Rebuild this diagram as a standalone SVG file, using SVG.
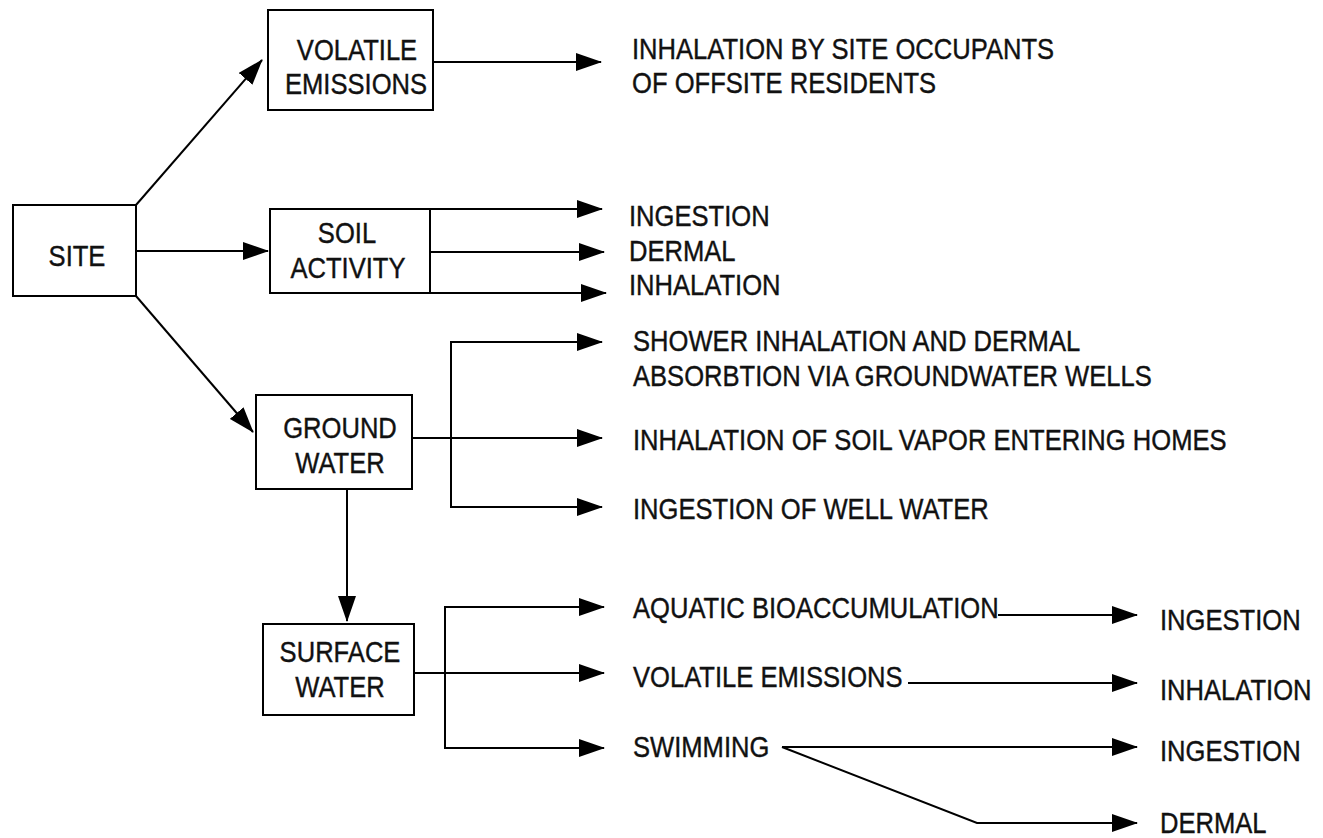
<svg xmlns="http://www.w3.org/2000/svg" width="1323" height="838" viewBox="0 0 1323 838">
<defs>
<marker id="ah" markerUnits="userSpaceOnUse" markerWidth="26" markerHeight="18" refX="25" refY="9" orient="auto" viewBox="0 0 26 18"><path d="M0,0 L26,9 L0,18 z" fill="#000"/></marker>
<style>
.box{fill:#fff;stroke:#000;stroke-width:2}
.ln{fill:none;stroke:#000;stroke-width:2}
.ar{fill:none;stroke:#000;stroke-width:2;marker-end:url(#ah)}
text{font-family:"Liberation Sans",Arial,Helvetica,sans-serif;font-size:25.6px;fill:#111;stroke:#111;stroke-width:0.35}
.c{text-anchor:middle}
</style>
</defs>
<rect width="1323" height="838" fill="#fff"/>

<g id="connectors">
<path class="ar" d="M136,205 L262,60"/>
<path class="ar" d="M136,251 L268,251"/>
<path class="ar" d="M136,296 L253,432"/>
<path class="ar" d="M433,62 L601,62"/>
<path class="ar" d="M430,209 L602,209"/>
<path class="ar" d="M430,252 L604,252"/>
<path class="ar" d="M430,293 L606,293"/>
<path class="ln" d="M430,209 L430,293"/>
<path class="ar" d="M412,438 L602,438"/>
<path class="ar" d="M451,438 L451,342 L602,342"/>
<path class="ar" d="M451,438 L451,507 L602,507"/>
<path class="ar" d="M347,489 L347,621"/>
<path class="ar" d="M414,673 L604,673"/>
<path class="ar" d="M445,673 L445,607 L604,607"/>
<path class="ar" d="M445,673 L445,748 L604,748"/>
<path class="ar" d="M998,615 L1137,615"/>
<path class="ar" d="M908,683 L1137,683"/>
<path class="ar" d="M782,747 L1137,747"/>
<path class="ar" d="M782,747 L977,823 L1137,823"/>
</g>

<g id="site"><rect class="box" x="13" y="205" width="123" height="91"/>
<text class="c" transform="translate(77,266) scale(1,1.12)">SITE</text></g>

<g id="volatile-emissions"><rect class="box" x="268" y="10" width="165" height="100"/>
<text class="c" transform="translate(357,60) scale(1,1.12)">VOLATILE</text>
<text class="c" transform="translate(356,94) scale(1,1.12)">EMISSIONS</text></g>

<g id="soil-activity"><rect class="box" x="270" y="209" width="160" height="84"/>
<text class="c" transform="translate(347,243) scale(1,1.12)">SOIL</text>
<text class="c" transform="translate(348,278) scale(1,1.12)">ACTIVITY</text></g>

<g id="ground-water"><rect class="box" x="256" y="395" width="156" height="94"/>
<text class="c" transform="translate(340,438) scale(1,1.12)">GROUND</text>
<text class="c" transform="translate(340,473) scale(1,1.12)">WATER</text></g>

<g id="surface-water"><rect class="box" x="263" y="624" width="151" height="91"/>
<text class="c" transform="translate(340,662) scale(1,1.12)">SURFACE</text>
<text class="c" transform="translate(340,697) scale(1,1.12)">WATER</text></g>

<g id="inhalation-occupants">
<text transform="translate(632,59) scale(1,1.12)">INHALATION BY SITE OCCUPANTS</text>
<text transform="translate(632,93) scale(1,1.12)">OF OFFSITE RESIDENTS</text></g>

<g id="soil-ingestion"><text transform="translate(629,226) scale(1,1.12)">INGESTION</text></g>
<g id="soil-dermal"><text transform="translate(629,261) scale(1,1.12)">DERMAL</text></g>
<g id="soil-inhalation"><text transform="translate(629,295) scale(1,1.12)">INHALATION</text></g>

<g id="shower">
<text transform="translate(633,351) scale(1,1.12)">SHOWER INHALATION AND DERMAL</text>
<text transform="translate(633,386) scale(1,1.12)">ABSORBTION VIA GROUNDWATER WELLS</text></g>
<g id="soil-vapor"><text transform="translate(633,450) scale(1,1.12)">INHALATION OF SOIL VAPOR ENTERING HOMES</text></g>
<g id="well-water"><text transform="translate(633,519) scale(1,1.12)">INGESTION OF WELL WATER</text></g>

<g id="aquatic"><text transform="translate(633,618) scale(1,1.12)">AQUATIC BIOACCUMULATION</text></g>
<g id="sw-volatile"><text transform="translate(633,687) scale(1,1.12)">VOLATILE EMISSIONS</text></g>
<g id="swimming"><text transform="translate(633,757) scale(1,1.12)">SWIMMING</text></g>

<g id="aquatic-ingestion"><text transform="translate(1160,630) scale(1,1.12)">INGESTION</text></g>
<g id="sw-inhalation"><text transform="translate(1160,700) scale(1,1.12)">INHALATION</text></g>
<g id="swim-ingestion"><text transform="translate(1160,761) scale(1,1.12)">INGESTION</text></g>
<g id="swim-dermal"><text transform="translate(1160,833) scale(1,1.12)">DERMAL</text></g>
</svg>
